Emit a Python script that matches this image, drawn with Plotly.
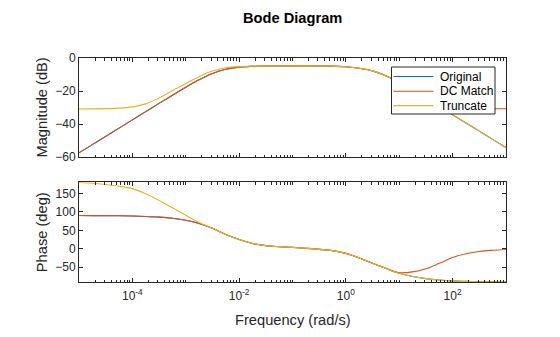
import plotly.graph_objects as go

# Frequency grid (rad/s), quarter-decade steps from 1e-5 to 1e3
freq = [1.0e-5, 1.778e-5, 3.162e-5, 5.623e-5,
        1.0e-4, 1.778e-4, 3.162e-4, 5.623e-4,
        1.0e-3, 1.778e-3, 3.162e-3, 5.623e-3,
        1.0e-2, 1.778e-2, 3.162e-2, 5.623e-2,
        1.0e-1, 1.778e-1, 3.162e-1, 5.623e-1,
        1.0, 1.778, 3.162, 5.623,
        10.0, 17.78, 31.62, 56.23,
        100.0, 177.8, 316.2, 562.3,
        1000.0]

mag_original = [-57.5, -52.5, -47.5, -42.5,
                -37.5, -32.5, -27.5, -22.6,
                -17.7, -13.2, -9.4, -6.8,
                -5.5, -5.05, -4.9, -4.85,
                -4.8, -4.8, -4.85, -4.95,
                -5.3, -6.2, -7.8, -10.8,
                -14.8, -19.5, -24.4, -29.4,
                -34.4, -39.4, -44.3, -49.3,
                -54.2]
mag_dcmatch = [-57.5, -52.5, -47.5, -42.5,
               -37.5, -32.5, -27.5, -22.6,
               -17.7, -13.2, -9.4, -6.8,
               -5.5, -5.05, -4.9, -4.85,
               -4.8, -4.8, -4.85, -4.95,
               -5.3, -6.2, -7.8, -10.75,
               -14.7, -19.2, -23.5, -27.1,
               -29.3, -30.3, -30.6, -30.75,
               -30.8]
mag_truncate = [-30.9, -30.85, -30.7, -30.4,
                -29.6, -27.8, -24.2, -19.8,
                -15.4, -11.3, -7.9, -5.9,
                -5.2, -5.0, -4.9, -4.85,
                -4.8, -4.8, -4.85, -4.95,
                -5.3, -6.2, -7.8, -10.8,
                -14.8, -19.5, -24.4, -29.4,
                -34.4, -39.4, -44.3, -49.3,
                -54.2]

ph_original = [90.0, 89.8, 89.6, 89.3,
               88.7, 87.6, 85.8, 82.6,
               77.2, 68.5, 55.3, 38.5,
               25.0, 14.5, 8.5, 5.8,
               3.8, 1.3, -1.5, -5.0,
               -12.5, -25.0, -39.5, -53.5,
               -66.5, -75.0, -80.8, -84.5,
               -87.0, -88.4, -89.2, -89.6,
               -89.8]
ph_dcmatch = [90.0, 89.8, 89.6, 89.3,
              88.7, 87.6, 85.8, 82.6,
              77.2, 68.5, 55.3, 38.5,
              25.0, 14.5, 8.5, 5.8,
              3.8, 1.3, -1.5, -5.0,
              -12.5, -25.0, -39.0, -52.5,
              -64.5, -62.5, -54.0, -39.5,
              -23.5, -13.5, -7.2, -4.0,
              -2.0]
ph_truncate = [179.5, 177.5, 174.0, 169.5,
               163.0, 149.0, 131.0, 111.0,
               91.0, 71.0, 55.3, 38.5,
               25.0, 14.5, 8.5, 5.8,
               3.8, 1.3, -1.5, -5.0,
               -12.5, -25.0, -39.5, -53.5,
               -66.5, -75.0, -80.8, -84.5,
               -87.0, -88.4, -89.2, -89.6,
               -89.8]

names = ["Original", "DC Match", "Truncate"]
colors = ["#0072BD", "#D95319", "#EDB120"]
mags = [mag_original, mag_dcmatch, mag_truncate]
phases = [ph_original, ph_dcmatch, ph_truncate]

x_tickvals = [1e-4, 1e-2, 1e0, 1e2]
x_ticktext = ["10<sup>-4</sup>", "10<sup>-2</sup>", "10<sup>0</sup>", "10<sup>2</sup>"]

FONT = "Liberation Sans, Arial"
axis_col = "#262626"

fig = go.Figure()
for name, col, m, p in zip(names, colors, mags, phases):
    fig.add_trace(go.Scatter(x=freq, y=m, mode="lines", name=name,
                             line=dict(color=col, width=1.1, shape="spline", smoothing=1.0),
                             xaxis="x", yaxis="y", showlegend=False))
    fig.add_trace(go.Scatter(x=freq, y=p, mode="lines", name=name,
                             line=dict(color=col, width=1.1, shape="spline", smoothing=1.0),
                             xaxis="x2", yaxis="y2", showlegend=False))

minor_vals = [k * 10.0 ** e for e in range(-5, 3) for k in range(2, 10)] + [1e-5, 1e-3, 1e-1, 1e1, 1e3]

tickfont = dict(family=FONT, size=12, color=axis_col)

common_x = dict(type="log", range=[-5, 3], showline=True, linecolor=axis_col, linewidth=1,
                mirror="ticks", ticks="inside", ticklen=4, tickcolor=axis_col, tickwidth=1,
                tickvals=x_tickvals, ticktext=x_ticktext, showgrid=False, zeroline=False,
                tickfont=tickfont,
                minor=dict(tickvals=minor_vals, ticks="inside", ticklen=2.5, tickcolor=axis_col,
                           tickwidth=1, showgrid=False))
common_y = dict(showline=True, linecolor=axis_col, linewidth=1, mirror="ticks",
                ticks="inside", ticklen=4, tickcolor=axis_col, tickwidth=1,
                showgrid=False, zeroline=False, tickfont=tickfont)

# --- legend drawn as a boxed key (paper coordinates) ---
PLOT_L, PLOT_W, PLOT_B, PLOT_H = 79, 427, 282, 224


def px_x(px):
    return (px - PLOT_L) / PLOT_W


def px_y(py):
    return (PLOT_B - py) / PLOT_H


shapes = [dict(type="rect", xref="paper", yref="paper", layer="above",
               x0=px_x(391.5), x1=px_x(495), y0=px_y(114), y1=px_y(67),
               fillcolor="white", line=dict(color=axis_col, width=1))]
annotations = []
rows = [76.5, 91.2, 105.6]
for name, col, ry in zip(names, colors, rows):
    shapes.append(dict(type="line", xref="paper", yref="paper", layer="above",
                       x0=px_x(393.5), x1=px_x(433.5), y0=px_y(ry), y1=px_y(ry),
                       line=dict(color=col, width=1.1)))
    annotations.append(dict(text=name, xref="paper", yref="paper", x=px_x(437.5), y=px_y(ry),
                            xanchor="left", yanchor="middle", showarrow=False,
                            font=dict(family=FONT, size=12, color="black")))

annotations += [
    dict(text="<b>Bode Diagram</b>", xref="paper", yref="paper", x=0.5, y=px_y(18),
         xanchor="center", yanchor="middle", showarrow=False,
         font=dict(family=FONT, size=14.67, color="black")),
    dict(text="Magnitude (dB)", xref="paper", yref="y domain", x=px_x(42), y=0.5,
         xanchor="center", yanchor="middle", textangle=-90, showarrow=False,
         font=dict(family=FONT, size=14.67, color=axis_col)),
    dict(text="Phase (deg)", xref="paper", yref="y2 domain", x=px_x(42), y=0.5,
         xanchor="center", yanchor="middle", textangle=-90, showarrow=False,
         font=dict(family=FONT, size=14.67, color=axis_col)),
    dict(text="Frequency (rad/s)", xref="paper", yref="paper", x=0.5, y=px_y(320),
         xanchor="center", yanchor="middle", showarrow=False,
         font=dict(family=FONT, size=14.67, color=axis_col)),
]

fig.update_layout(
    width=560, height=337, autosize=False,
    margin=dict(l=79, r=54, t=58, b=55),
    paper_bgcolor="white", plot_bgcolor="white",
    font=dict(family=FONT, color=axis_col),
    xaxis=dict(common_x, domain=[0, 1], anchor="y", showticklabels=False),
    yaxis=dict(common_y, domain=[0.558, 1], anchor="x", range=[-60, 0],
               tickvals=[0, -20, -40, -60]),
    xaxis2=dict(common_x, domain=[0, 1], anchor="y2", showticklabels=True,
                ticklabelstandoff=3),
    yaxis2=dict(common_y, domain=[0, 0.445], anchor="x2", range=[-90, 180],
                tickvals=[150, 100, 50, 0, -50]),
    showlegend=False,
    shapes=shapes,
    annotations=annotations,
)

fig.write_html("out.html")
